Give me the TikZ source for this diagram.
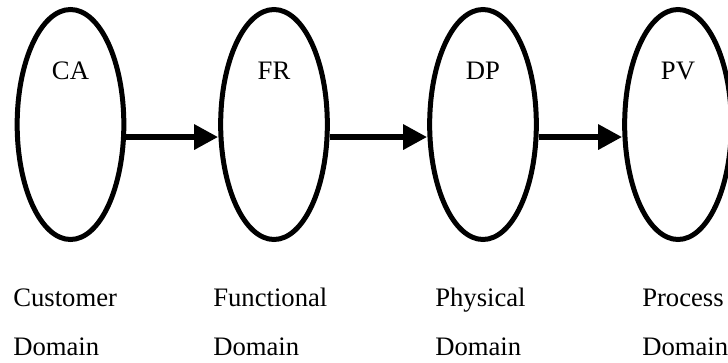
\documentclass[tikz,border=0pt]{standalone}
\usepackage{fontspec}
\setmainfont{Liberation Serif}
\usetikzlibrary{arrows.meta,shapes.geometric}

\begin{document}
\begin{tikzpicture}[x=0.75pt, y=0.75pt, >={Triangle[length=18pt,width=18pt]},
  domainbox/.style={ellipse, draw, line width=3.75pt, minimum width=80pt, minimum height=172.5pt, inner sep=0pt},
  word/.style={inner sep=0pt, font=\fontsize{20}{24}\selectfont},
  caption/.style={word, anchor=base west},
  flow/.style={->, line width=4.9pt}]
  \useasboundingbox (0, 0) rectangle (728, 362);
  \node [domainbox] (CA) at (70.5, 237.5) {};
  \node [domainbox] (FR) at (274, 237.5) {};
  \node [domainbox] (DP) at (483, 237.5) {};
  \node [domainbox] (PV) at (678, 237.5) {};
  \node [word] (CAname) at (70.5, 291.5) {CA};
  \node [word] (FRname) at (274, 291.5) {FR};
  \node [word] (DPname) at (483, 291.5) {DP};
  \node [word] (PVname) at (678, 291.5) {PV};
  \draw [flow] ([yshift=-9.4pt]CA.east) -- ([yshift=-9.4pt]FR.west);
  \draw [flow] ([yshift=-9.4pt]FR.east) -- ([yshift=-9.4pt]DP.west);
  \draw [flow] ([yshift=-9.4pt]DP.east) -- ([yshift=-9.4pt]PV.west);
  \node [caption] (CAtop) at (13, 56) {Customer};
  \node [caption] (CAbot) at (13, 7) {Domain};
  \node [caption] (FRtop) at (213, 56) {Functional};
  \node [caption] (FRbot) at (213, 7) {Domain};
  \node [caption] (DPtop) at (435, 56) {Physical};
  \node [caption] (DPbot) at (435, 7) {Domain};
  \node [caption] (PVtop) at (642, 56) {Process};
  \node [caption] (PVbot) at (642, 7) {Domain};
\end{tikzpicture}
\end{document}
